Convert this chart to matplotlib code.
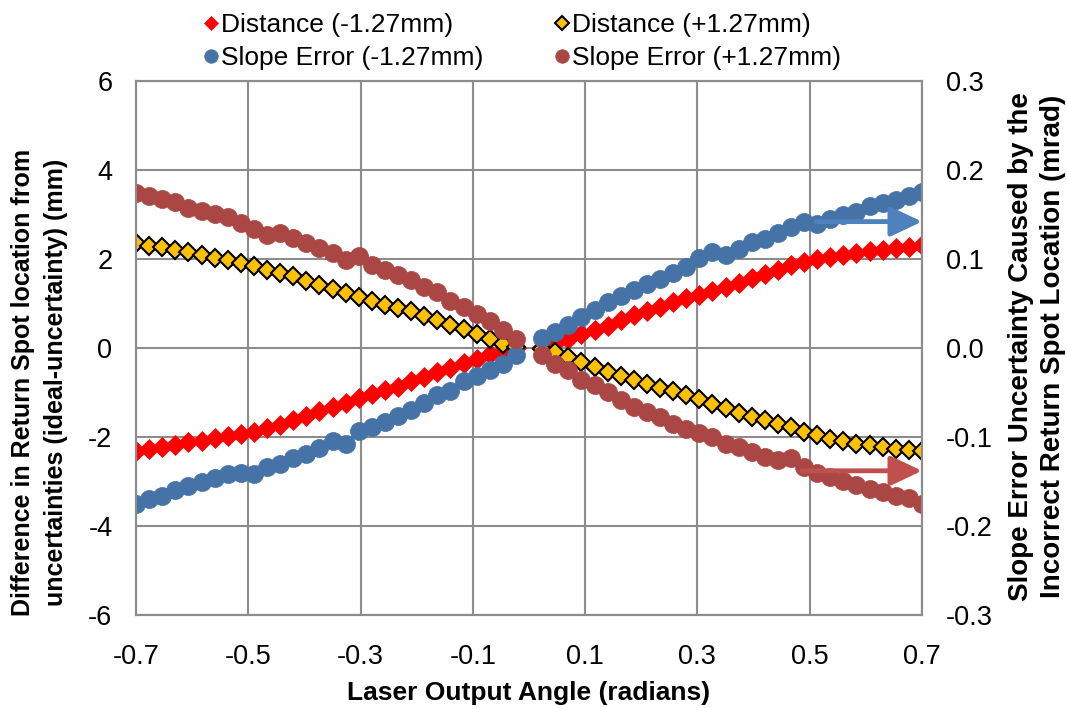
import numpy as np
import matplotlib.pyplot as plt
from matplotlib.patches import FancyArrowPatch

plt.rcParams['font.family'] = ['Liberation Sans', 'DejaVu Sans']


# data
# -------------------------------------------------------------------------------------
# laser output angle (radians), 30 points either side of zero
angle_neg = [-0.7000, -0.6767, -0.6533, -0.6300, -0.6067, -0.5833, -0.5600, -0.5367,
             -0.5133, -0.4900, -0.4667, -0.4433, -0.4200, -0.3967, -0.3733, -0.3500,
             -0.3267, -0.3033, -0.2800, -0.2567, -0.2333, -0.2100, -0.1867, -0.1633,
             -0.1400, -0.1167, -0.0933, -0.0700, -0.0467, -0.0233]
angle_pos = [0.0233, 0.0467, 0.0700, 0.0933, 0.1167, 0.1400, 0.1633, 0.1867,
             0.2100, 0.2333, 0.2567, 0.2800, 0.3033, 0.3267, 0.3500, 0.3733,
             0.3967, 0.4200, 0.4433, 0.4667, 0.4900, 0.5133, 0.5367, 0.5600,
             0.5833, 0.6067, 0.6300, 0.6533, 0.6767, 0.7000]

# distance difference (mm), left axis
dist_minus_neg = [-2.31, -2.26, -2.22, -2.18, -2.12, -2.08, -2.03, -1.98, -1.93, -1.88,
                  -1.80, -1.72, -1.62, -1.52, -1.42, -1.33, -1.24, -1.13, -1.03, -0.95,
                  -0.87, -0.75, -0.65, -0.55, -0.44, -0.34, -0.24, -0.14, -0.06, -0.01]
dist_minus_pos = [0.03, 0.11, 0.20, 0.31, 0.41, 0.50, 0.62, 0.73, 0.82, 0.93,
                  1.03, 1.12, 1.20, 1.29, 1.37, 1.47, 1.57, 1.66, 1.76, 1.86,
                  1.93, 1.99, 2.05, 2.09, 2.14, 2.18, 2.21, 2.25, 2.28, 2.31]
dist_plus_neg = [2.35, 2.30, 2.26, 2.21, 2.15, 2.10, 2.03, 1.97, 1.91, 1.84,
                 1.76, 1.69, 1.61, 1.51, 1.42, 1.32, 1.24, 1.15, 1.06, 0.97,
                 0.89, 0.82, 0.72, 0.62, 0.52, 0.42, 0.32, 0.20, 0.10, 0.02]
dist_plus_pos = [-0.02, -0.10, -0.20, -0.31, -0.42, -0.53, -0.62, -0.71, -0.80, -0.89,
                 -0.97, -1.05, -1.14, -1.25, -1.36, -1.46, -1.55, -1.62, -1.70, -1.78,
                 -1.88, -1.96, -2.04, -2.10, -2.15, -2.19, -2.22, -2.26, -2.29, -2.32]

# slope error uncertainty (mrad), right axis
slope_minus_neg = [-0.175, -0.170, -0.166, -0.160, -0.155, -0.151, -0.146, -0.142, -0.140, -0.142,
                   -0.134, -0.130, -0.124, -0.119, -0.112, -0.104, -0.108, -0.093, -0.089, -0.083,
                   -0.076, -0.070, -0.062, -0.053, -0.048, -0.037, -0.031, -0.025, -0.018, -0.008]
slope_minus_pos = [0.011, 0.018, 0.026, 0.035, 0.043, 0.052, 0.058, 0.065, 0.072, 0.078,
                   0.084, 0.091, 0.101, 0.108, 0.105, 0.111, 0.119, 0.123, 0.129, 0.136,
                   0.142, 0.139, 0.145, 0.149, 0.153, 0.159, 0.163, 0.166, 0.171, 0.175]
slope_plus_neg = [0.174, 0.171, 0.167, 0.164, 0.157, 0.154, 0.150, 0.147, 0.140, 0.134,
                  0.127, 0.129, 0.124, 0.118, 0.112, 0.107, 0.099, 0.103, 0.093, 0.088,
                  0.082, 0.076, 0.069, 0.063, 0.053, 0.046, 0.038, 0.030, 0.020, 0.010]
slope_plus_pos = [-0.008, -0.018, -0.025, -0.036, -0.042, -0.050, -0.059, -0.066, -0.072, -0.078,
                  -0.085, -0.091, -0.095, -0.100, -0.108, -0.111, -0.117, -0.123, -0.126, -0.124,
                  -0.134, -0.141, -0.145, -0.149, -0.154, -0.158, -0.162, -0.166, -0.169, -0.175]

x_ticks = [-0.7, -0.5, -0.3, -0.1, 0.1, 0.3, 0.5, 0.7]
left_ticks = [-6, -4, -2, 0, 2, 4, 6]
right_ticks = [-0.3, -0.2, -0.1, 0.0, 0.1, 0.2, 0.3]


# styles
# -------------------------------------------------------------------------------------
grid_col = '#8c8c8c'
red = '#ff0000'
gold = '#ffc000'
blue = '#4572a7'
brown = '#aa4643'


# plot
# -------------------------------------------------------------------------------------
fig = plt.figure(figsize=(10.67, 7.08), dpi=100)
ax = fig.add_axes([0.1275, 0.1314, 0.7366, 0.7542])
ax2 = ax.twinx()

angle = angle_neg + angle_pos

h1, = ax.plot(angle, dist_minus_neg + dist_minus_pos, ls='none', marker='D', ms=10,
              mfc=red, mec=red, mew=0.5, label='Distance (-1.27mm)')
h2, = ax.plot(angle, dist_plus_neg + dist_plus_pos, ls='none', marker='D', ms=9.5,
              mfc=gold, mec='black', mew=1.5, label='Distance (+1.27mm)')
h3, = ax2.plot(angle, slope_minus_neg + slope_minus_pos, ls='none', marker='o', ms=13,
               mfc=blue, mec=blue, mew=0.5, label='Slope Error (-1.27mm)')
h4, = ax2.plot(angle, slope_plus_neg + slope_plus_pos, ls='none', marker='o', ms=13,
               mfc=brown, mec=brown, mew=0.5, label='Slope Error (+1.27mm)')

# arrows pointing at the right-hand axis
for y0, x0, col in [(0.142, 0.512, '#4f81bd'), (-0.138, 0.486, '#c0504d')]:
    arr = FancyArrowPatch((x0, y0), (0.70, y0), arrowstyle='-|>,head_length=19,head_width=9',
                          mutation_scale=1, lw=3.5, color=col, shrinkA=0, shrinkB=0,
                          zorder=5, clip_on=False)
    ax2.add_patch(arr)

ax.set_xlim(-0.7, 0.7)
ax.set_ylim(-6, 6)
ax2.set_ylim(-0.3, 0.3)

ax.set_xticks(x_ticks)
ax.set_xticklabels([f'{v:.1f}' for v in x_ticks])
ax.set_yticks(left_ticks)
ax.set_yticklabels([str(v) for v in left_ticks])
ax2.set_yticks(right_ticks)
ax2.set_yticklabels([f'{v:.1f}' for v in right_ticks])

ax.grid(True, color=grid_col, lw=1.5)
ax.set_axisbelow(True)
for a in (ax, ax2):
    for s in a.spines.values():
        s.set_color(grid_col)
        s.set_linewidth(1.5)
    a.tick_params(labelsize=19.5, length=0, pad=17)
ax.tick_params(axis='x', pad=21)

ax.set_xlabel('Laser Output Angle (radians)', fontsize=19, fontweight='bold', labelpad=8)
fig.text(0.037, 0.4605, 'Difference in Return Spot location from\nuncertainties (ideal-uncertainty) (mm)',
         fontsize=18, fontweight='bold', rotation=90, ha='center', va='center',
         multialignment='center', linespacing=1.45)
fig.text(0.972, 0.511, 'Slope Error Uncertainty Caused by the\nIncorrect Return Spot Location (mrad)',
         fontsize=20, fontweight='bold', rotation=90, ha='center', va='center',
         multialignment='center', linespacing=1.3)

fig.legend(handles=[h1, h3, h2, h4], ncol=2, loc='upper left', bbox_to_anchor=(0.179, 1.0),
           frameon=False, fontsize=19, handlelength=0.5, handletextpad=0.15, borderpad=0,
           columnspacing=2.7, labelspacing=0.34, markerscale=0.75)

fig.savefig('out.png', dpi=100)
